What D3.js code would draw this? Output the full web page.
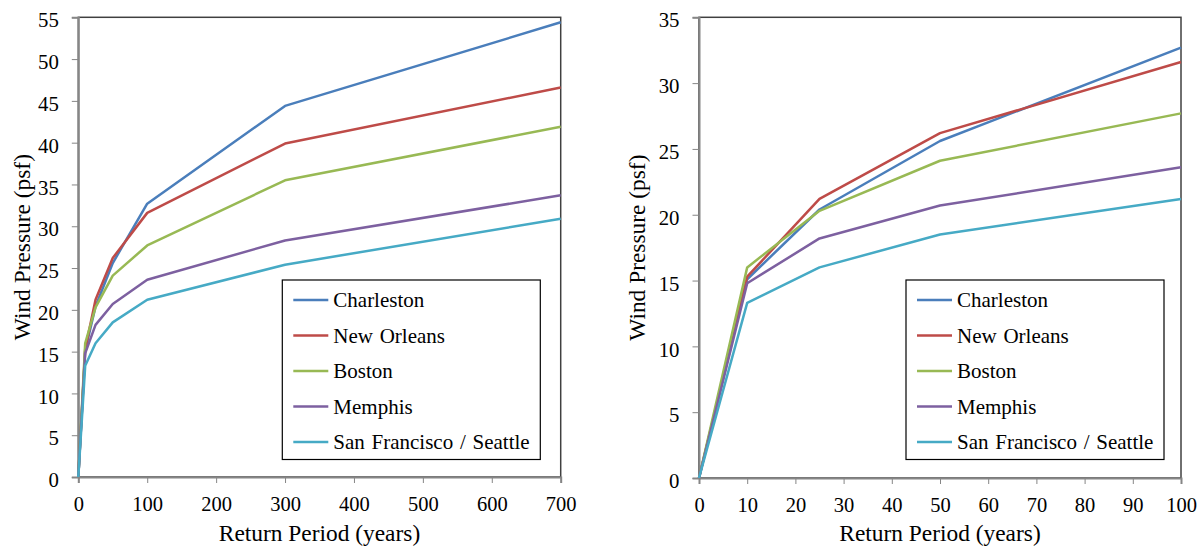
<!DOCTYPE html>
<html>
<head>
<meta charset="utf-8">
<script src="https://cdn.jsdelivr.net/npm/d3@7"></script>
<style>
  html, body { margin: 0; padding: 0; background: #fff; }
  svg { display: block; }
  svg text { font-family: "Liberation Serif"; }
</style>
</head>
<body>
<svg id="chart" width="1203" height="548" font-family="Liberation Serif"></svg>
<script>
// Design wind pressure vs. return period for five US cities
const cities = ["Charleston", "New Orleans", "Boston", "Memphis", "San Francisco / Seattle"];
const colors = ["#4A7EBB", "#BE4B48", "#98B954", "#7D60A0", "#46AAC5"];

const periodsLong = [0, 10, 25, 50, 100, 300, 700];
const periodsShort = [0, 10, 25, 50, 100];

const charleston = [0, 15.1, 20.4, 25.6, 32.7, 44.4, 54.4];
const newOrleans = [0, 15.3, 21.2, 26.2, 31.6, 39.9, 46.6];
const boston     = [0, 16.0, 20.3, 24.1, 27.7, 35.5, 41.9];
const memphis    = [0, 14.8, 18.2, 20.7, 23.6, 28.3, 33.7];
const sfSeattle  = [0, 13.3, 16.0, 18.5, 21.2, 25.4, 30.9];
const seriesValues = [charleston, newOrleans, boston, memphis, sfSeattle];

const yTicksLeft = d3.range(0, 56, 5);
const xTicksLeft = d3.range(0, 701, 100);
const yTicksRight = d3.range(0, 36, 5);
const xTicksRight = d3.range(0, 101, 10);

const FONT = '"Liberation Serif"';
const svg = d3.select("#chart");

function drawPanel(opt) {
  const { x0, x1, y0, y1, xDomain, yDomain, xTicks, yTicks, periods, legend, titleX } = opt;
  const x = d3.scaleLinear().domain(xDomain).range([x0, x1]);
  const y = d3.scaleLinear().domain(yDomain).range([y1, y0]);
  const g = svg.append("g");

  // plot frame (top and right edges)
  g.append("rect")
    .attr("x", x0).attr("y", y0)
    .attr("width", x1 - x0).attr("height", y1 - y0)
    .attr("fill", "none").attr("stroke", "#404040").attr("stroke-width", 1.5);

  // y axis
  const yAxis = g.append("g")
    .attr("transform", `translate(${x0},0)`)
    .call(d3.axisLeft(y).tickValues(yTicks).tickSize(6.5).tickPadding(13).tickFormat(d3.format("d")));
  yAxis.attr("font-family", null).attr("font-size", null);
  yAxis.select(".domain").attr("stroke", "#868686").attr("stroke-width", 2);
  yAxis.selectAll(".tick line").attr("stroke", "#868686").attr("stroke-width", 1);
  yAxis.selectAll(".tick text").attr("fill", "#000").attr("y", 3)
    .style("font-family", FONT).style("font-size", "20.8px");

  // x axis
  const xAxis = g.append("g")
    .attr("transform", `translate(0,${y1})`)
    .call(d3.axisBottom(x).tickValues(xTicks).tickSize(6).tickPadding(13.5).tickFormat(d3.format("d")));
  xAxis.attr("font-family", null).attr("font-size", null);
  xAxis.select(".domain").attr("stroke", "#868686").attr("stroke-width", 2);
  xAxis.selectAll(".tick line").attr("stroke", "#868686").attr("stroke-width", 1);
  xAxis.selectAll(".tick text").attr("fill", "#000")
    .style("font-family", FONT).style("font-size", "20.5px");

  // axis titles
  g.append("text")
    .attr("x", (x0 + x1) / 2).attr("y", 541)
    .attr("text-anchor", "middle").attr("fill", "#000")
    .style("font-family", FONT).style("font-size", "23.4px")
    .text("Return Period (years)");
  g.append("text")
    .attr("transform", `translate(${titleX},${(y0 + y1) / 2}) rotate(-90)`)
    .attr("text-anchor", "middle").attr("fill", "#000")
    .style("font-family", FONT).style("font-size", "23.4px")
    .text("Wind Pressure (psf)");

  // series lines
  const line = d3.line().x(d => x(d[0])).y(d => y(d[1]));
  seriesValues.forEach((vals, i) => {
    const pts = periods.map((p, j) => [p, vals[j]]);
    g.append("path")
      .datum(pts)
      .attr("d", line)
      .attr("fill", "none")
      .attr("stroke", colors[i])
      .attr("stroke-width", 2.5)
      .attr("stroke-linejoin", "round");
  });

  // legend
  const lg = g.append("g").attr("transform", `translate(${legend.x},${legend.y})`);
  lg.append("rect")
    .attr("width", legend.w).attr("height", legend.h)
    .attr("fill", "#fff").attr("stroke", "#000").attr("stroke-width", 1.2);
  cities.forEach((name, i) => {
    const cy = 20 + i * 35.5;
    lg.append("line")
      .attr("x1", 11).attr("x2", 46).attr("y1", cy).attr("y2", cy)
      .attr("stroke", colors[i]).attr("stroke-width", 2.5);
    lg.append("text")
      .attr("x", 51).attr("y", cy).attr("dy", "0.35em")
      .attr("fill", "#000")
      .style("font-family", FONT).style("font-size", "21px")
      .style("word-spacing", "1.5px")
      .text(name);
  });
}

drawPanel({
  x0: 78.3, x1: 560.7, y0: 17.3, y1: 477,
  xDomain: [0, 700], yDomain: [0, 55],
  xTicks: xTicksLeft, yTicks: yTicksLeft,
  periods: periodsLong,
  legend: { x: 282.3, y: 280, w: 258, h: 179.5 },
  titleX: 30
});

drawPanel({
  x0: 699, x1: 1181, y0: 17.3, y1: 478,
  xDomain: [0, 100], yDomain: [0, 35],
  xTicks: xTicksRight, yTicks: yTicksRight,
  periods: periodsShort,
  legend: { x: 906, y: 280, w: 258, h: 179.5 },
  titleX: 645
});
</script>
</body>
</html>
